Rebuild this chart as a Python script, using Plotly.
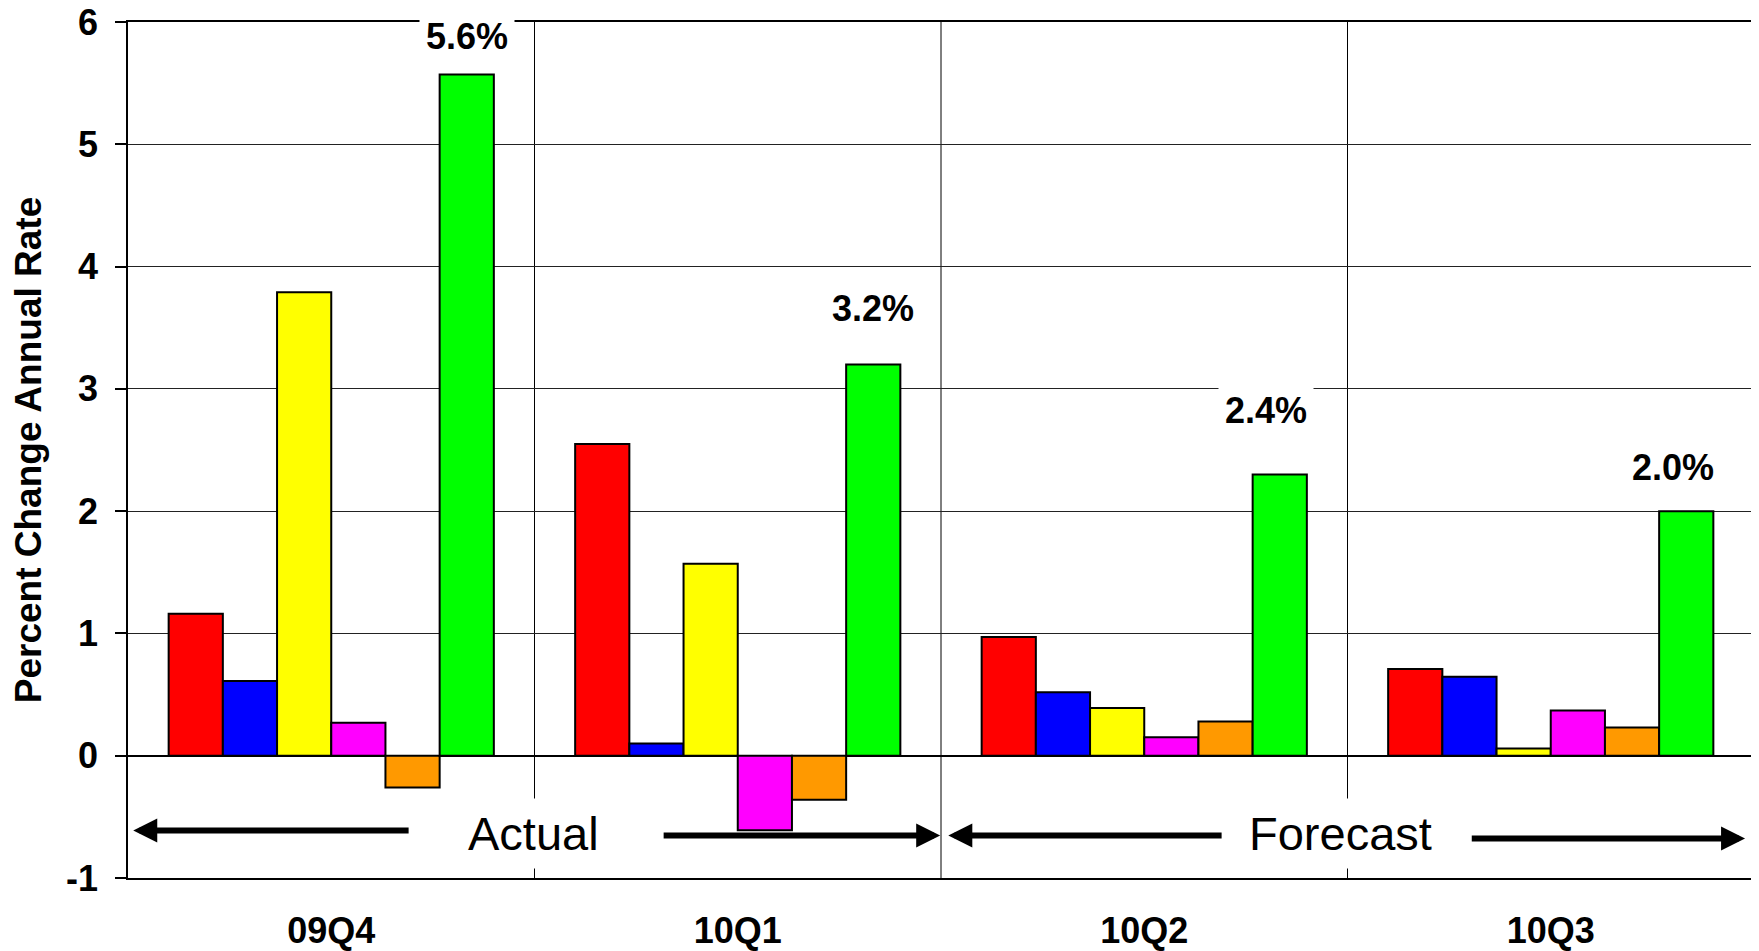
import plotly.graph_objects as go

# ---- data ----
quarters = ["09Q4", "10Q1", "10Q2", "10Q3"]
series_red = [1.16, 2.55, 0.97, 0.71]
series_blue = [0.61, 0.10, 0.52, 0.645]
series_yellow = [3.79, 1.57, 0.39, 0.06]
series_magenta = [0.27, -0.61, 0.15, 0.37]
series_orange = [-0.26, -0.36, 0.28, 0.23]
series_green = [5.57, 3.20, 2.30, 2.00]
total_labels = ["5.6%", "3.2%", "2.4%", "2.0%"]
y_ticks = [-1, 0, 1, 2, 3, 4, 5, 6]
y_ticktext = ["-1", "0", "1", "2", "3", "4", "5", "6"]

# ---- style ----
colors = ["#FF0000", "#0000FF", "#FFFF00", "#FF00FF", "#FF9900", "#00FF00"]
all_series = [series_red, series_blue, series_yellow, series_magenta, series_orange, series_green]
FONT = "Arial, Liberation Sans, Helvetica, sans-serif"

xpos = list(range(len(quarters)))

fig = go.Figure()
for vals, col in zip(all_series, colors):
    fig.add_trace(go.Bar(
        x=xpos, y=vals,
        marker=dict(color=col, line=dict(color="black", width=2)),
        showlegend=False,
    ))

# vertical separators between quarters
shapes = []
for b in [0.5, 1.5, 2.5]:
    shapes.append(dict(type="line", xref="x", yref="y", x0=b, x1=b, y0=-1, y1=6,
                       line=dict(color="black", width=1), layer="below"))

annotations = []
# total labels above green bars
n_series = len(all_series)
group_w = 0.8
green_off = (n_series - 1 - (n_series - 1) / 2) / n_series * group_w
label_dy = [0.31, 0.46, 0.52, 0.36]
label_dx = [0, 0, -14, -13]
for i, txt in enumerate(total_labels):
    annotations.append(dict(
        x=xpos[i] + green_off, y=series_green[i] + label_dy[i], xref="x", yref="y",
        text=txt, showarrow=False, xshift=label_dx[i],
        font=dict(family=FONT, size=36, color="black", weight="bold"),
        bgcolor="white", borderpad=6,
    ))

# Actual / Forecast text
for txt, xc in [("Actual", 0.497), ("Forecast", 2.482)]:
    annotations.append(dict(
        x=xc, y=-0.636, xref="x", yref="y", text=txt, showarrow=False,
        font=dict(family=FONT, size=47, color="black"),
        bgcolor="white", borderpad=8,
    ))

# arrows (head x,y ; tail ax,ay)
arrows = [(-0.487, -0.612, 0.194, -0.612),
          (1.498, -0.653, 0.814, -0.653),
          (1.518, -0.653, 2.194, -0.653),
          (3.478, -0.677, 2.802, -0.677)]
for hx, hy, tx, ty in arrows:
    annotations.append(dict(
        x=hx, y=hy, ax=tx, ay=ty, xref="x", yref="y", axref="x", ayref="y",
        text="", showarrow=True, arrowhead=2, arrowsize=0.8, arrowwidth=6,
        arrowcolor="black",
    ))

fig.update_layout(
    width=1751, height=943,
    margin=dict(l=120, r=5, t=14, b=73),
    paper_bgcolor="white", plot_bgcolor="white",
    barmode="group", bargap=0.2, bargroupgap=0,
    shapes=shapes, annotations=annotations,
    font=dict(family=FONT, color="black"),
)
fig.update_xaxes(
    range=[-0.5, 3.5], tickmode="array", tickvals=xpos, ticktext=quarters,
    showgrid=False, zeroline=False, ticks="",
    showline=True, linecolor="black", linewidth=1.5, mirror=True,
    tickfont=dict(family=FONT, size=36, color="black", weight="bold"),
    ticklabelstandoff=20, automargin=False, ticklabeloverflow="allow",
)
fig.update_yaxes(
    range=[-1, 6], tickmode="array", tickvals=y_ticks, ticktext=y_ticktext,
    showgrid=True, gridcolor="#222222", gridwidth=1,
    zeroline=True, zerolinecolor="black", zerolinewidth=1.5,
    ticks="outside", ticklen=11, tickcolor="black", tickwidth=1.5,
    showline=True, linecolor="black", linewidth=1.5, mirror=True,
    tickfont=dict(family=FONT, size=36, color="black", weight="bold"),
    ticklabelstandoff=10, automargin=False, ticklabeloverflow="allow",
    title=dict(text="Percent Change Annual Rate", standoff=18,
               font=dict(family=FONT, size=37, color="black", weight="bold")),
)

fig.write_html("out.html")
